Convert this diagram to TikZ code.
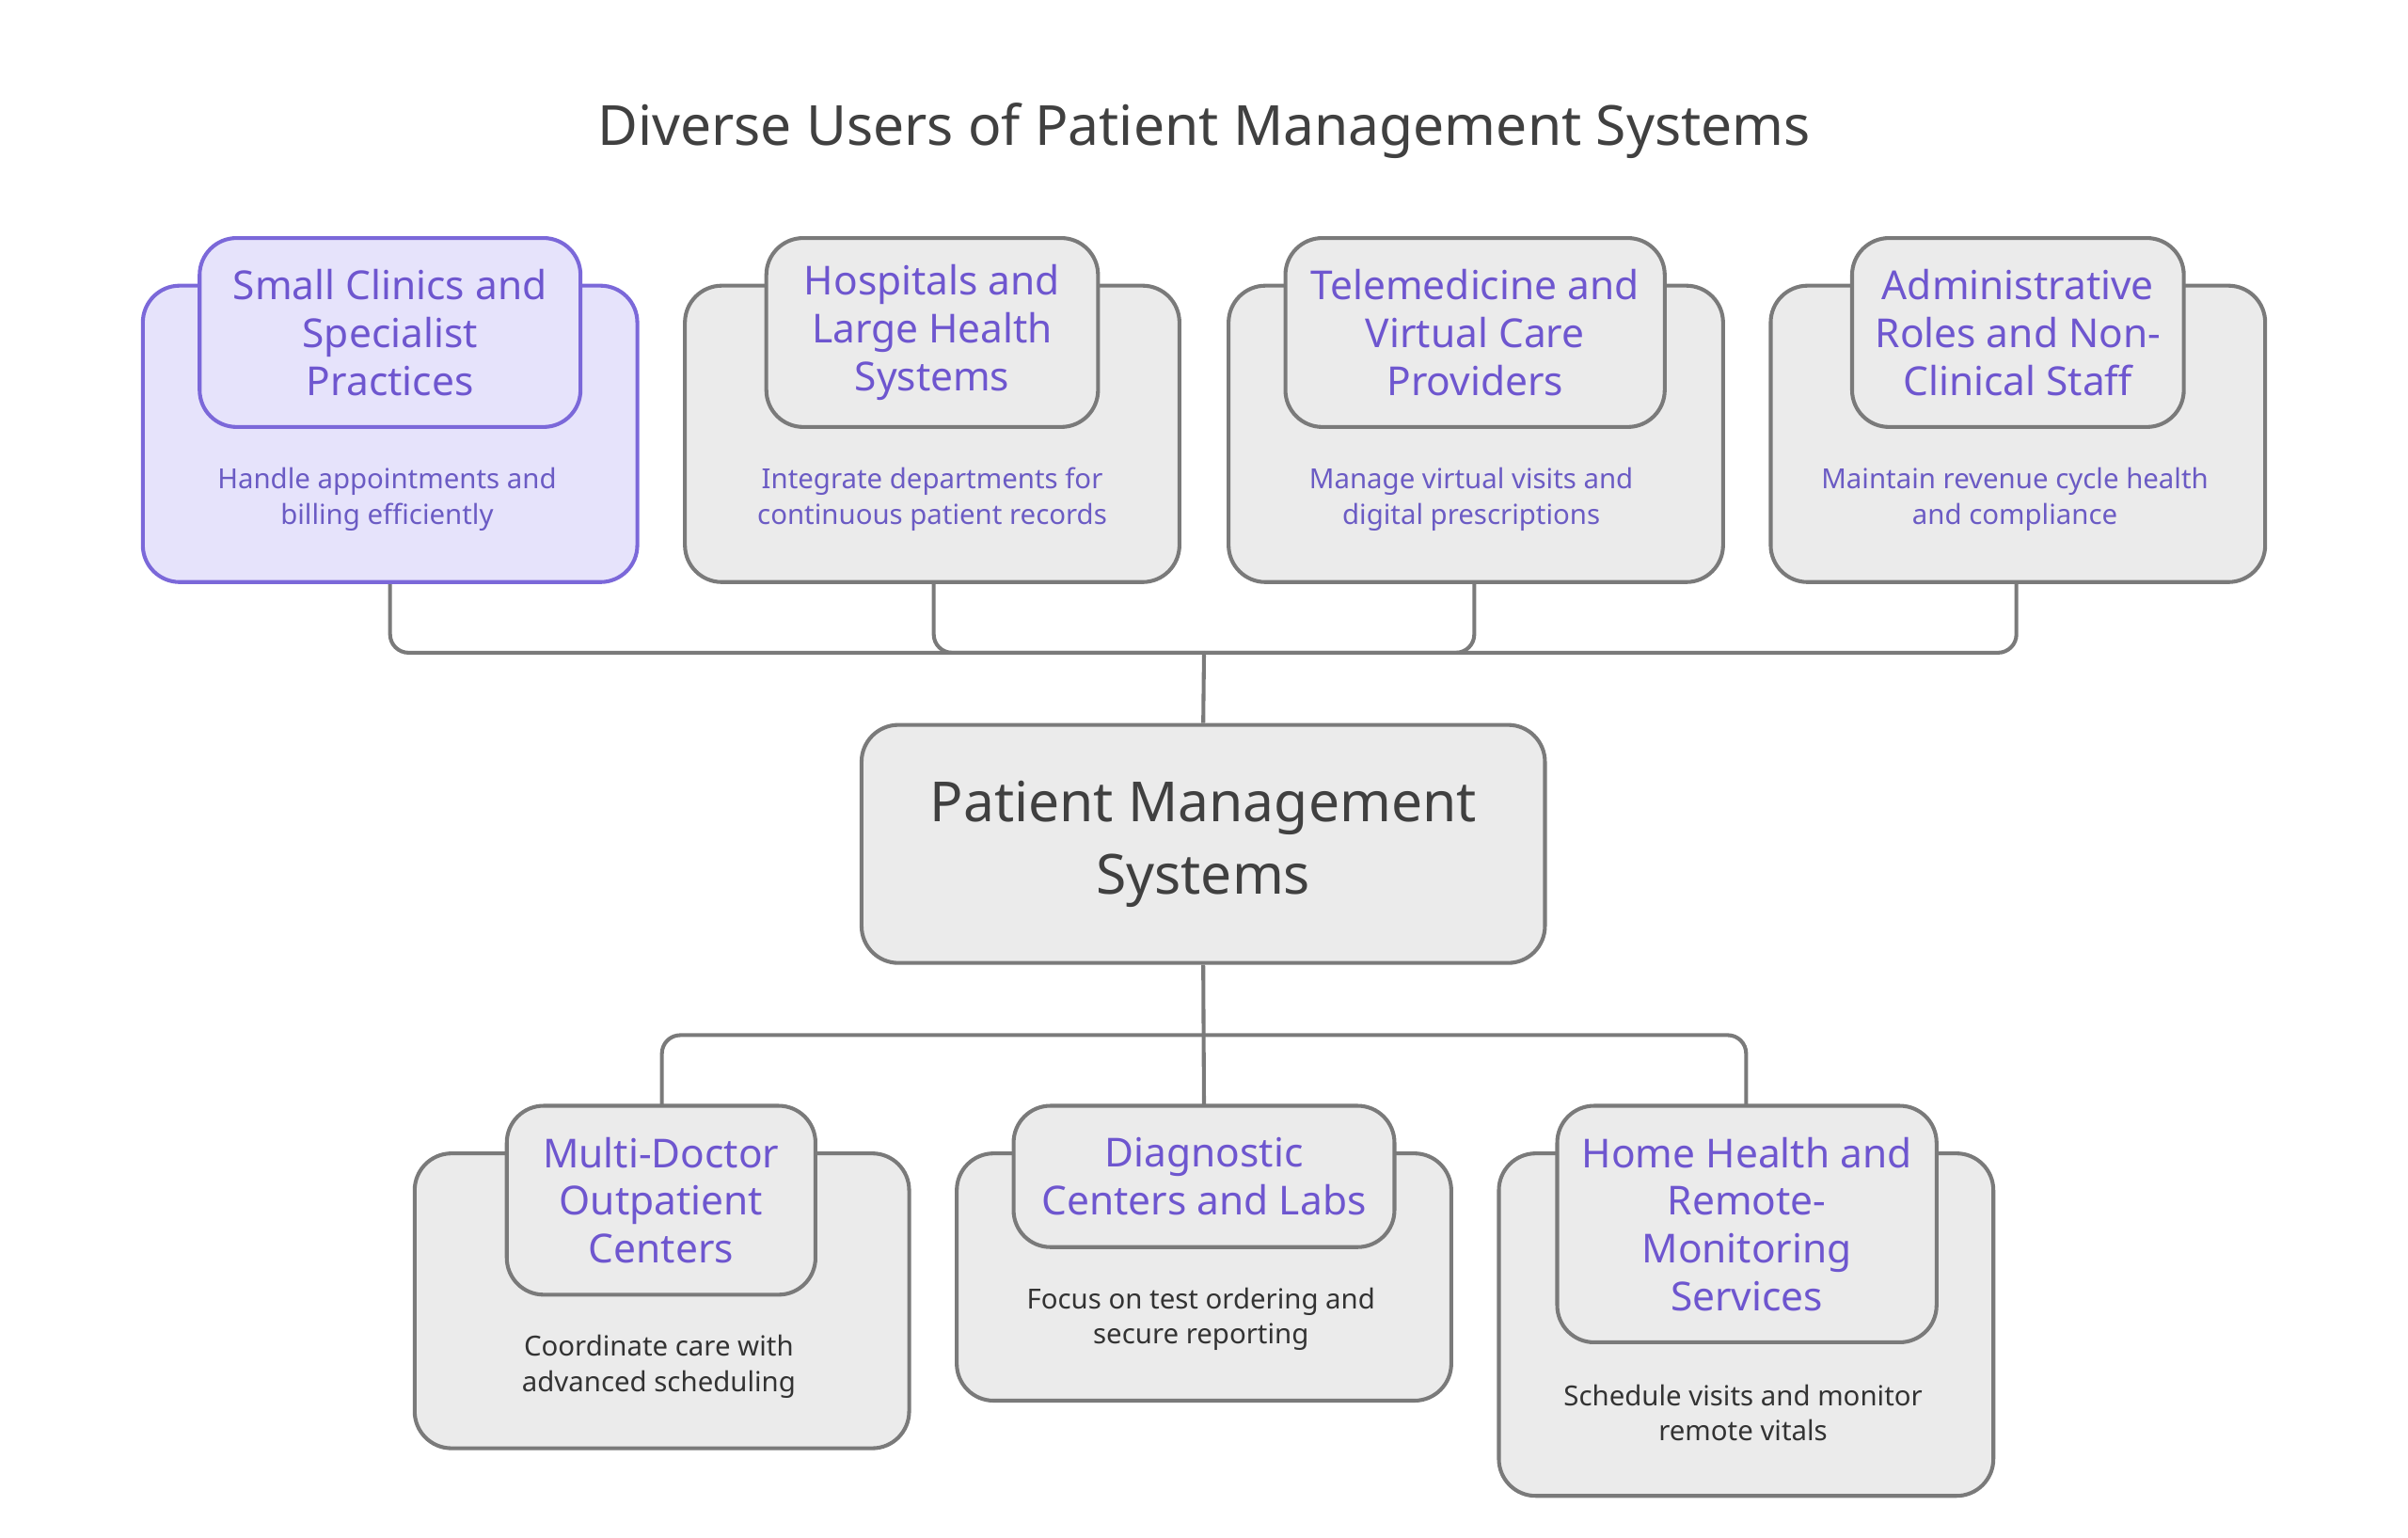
\documentclass[tikz,border=0pt]{standalone}
\usepackage{fontspec}
\setmainfont{Noto Sans}
\begin{document}
\begin{tikzpicture}[x=1pt,y=-1pt,
 box/.style={draw=bd,fill=gf,line width=2.5pt,rounded corners=24pt,inner sep=0pt},
 hbox/.style={draw=pb,fill=pf,line width=2.5pt,rounded corners=24pt,inner sep=0pt},
 head/.style={text=pt,font=\fontsize{26}{31}\selectfont\bfseries,align=center},
 desc/.style={font=\fontsize{18}{23}\selectfont,align=center},
 conn/.style={draw=bd,line width=2.5pt,rounded corners=12pt}]
\definecolor{bd}{HTML}{7A7A7A}\definecolor{gf}{HTML}{EBEBEB}
\definecolor{pb}{HTML}{7B68D9}\definecolor{pf}{HTML}{E6E3FB}
\definecolor{pt}{HTML}{6E56CF}\definecolor{dt}{HTML}{333333}\definecolor{pd}{HTML}{6B5BC4}
\useasboundingbox (0,0) rectangle (1568,1001);
\node[font=\fontsize{36}{40}\selectfont\bfseries,text=black!75] (title) at (784,85) {Diverse Users of Patient Management Systems};
% connectors
\coordinate (j) at (784,425); \coordinate (j2) at (784,674);
\node[box,minimum width=445,minimum height=155,font=\fontsize{36}{47}\selectfont\bfseries,text=black!75,align=center] (pm) at (783.5,549.5) {Patient Management\\Systems};
\foreach \x/\n in {254/1,608/2,960/3,1313/4}{\coordinate (b\n) at (\x,379);}
\draw[conn] (b1) |- (j); \draw[conn] (b2) |- (j); \draw[conn] (b3) |- (j); \draw[conn] (b4) |- (j);
\draw[conn] (j) -- (pm.north);
\coordinate (t1) at (431,720); \coordinate (t2) at (784,720); \coordinate (t3) at (1137,720);
\draw[conn] (j2) -| (t1); \draw[conn] (j2) -| (t3); \draw[conn] (pm.south) -- (t2);
% top row
\node[hbox,minimum width=322,minimum height=193] (o1) at (254,282.5) {};
\node[hbox,minimum width=248,minimum height=123,head] (i1) at (254,216.5) {Small Clinics and\\Specialist\\Practices};
\node[desc,text=pd] (d1) at (252,325) {Handle appointments and\\billing efficiently};
\node[box,minimum width=322,minimum height=193] (o2) at (607,282.5) {};
\node[box,minimum width=216,minimum height=123,head] (i2) at (607,216.5) {Hospitals and\\Large Health\\Systems};
\node[desc,text=pd] (d2) at (607,325) {Integrate departments for\\continuous patient records};
\node[box,minimum width=322,minimum height=193] (o3) at (961,282.5) {};
\node[box,minimum width=247,minimum height=123,head] (i3) at (960.5,216.5) {Telemedicine and\\Virtual Care\\Providers};
\node[desc,text=pd] (d3) at (958,325) {Manage virtual visits and\\digital prescriptions};
\node[box,minimum width=322,minimum height=193] (o4) at (1314,282.5) {};
\node[box,minimum width=216,minimum height=123,head] (i4) at (1314,216.5) {Administrative\\Roles and Non-\\Clinical Staff};
\node[desc,text=pd] (d4) at (1312,325) {Maintain revenue cycle health\\and compliance};
% bottom row
\node[box,minimum width=322,minimum height=192] (o5) at (431,847) {};
\node[box,minimum width=201,minimum height=123,head] (i5) at (430.5,781.5) {Multi-Doctor\\Outpatient\\Centers};
\node[desc,text=dt] (d5) at (429,890) {Coordinate care with\\advanced scheduling};
\node[box,minimum width=322,minimum height=161] (o6) at (784,831.5) {};
\node[box,minimum width=248,minimum height=92,head] (i6) at (784,766) {Diagnostic\\Centers and Labs};
\node[desc,text=dt] (d6) at (782,859) {Focus on test ordering and\\secure reporting};
\node[box,minimum width=322,minimum height=223] (o7) at (1137,862.5) {};
\node[box,minimum width=247,minimum height=154,head] (i7) at (1137.5,797) {Home Health and\\Remote-\\Monitoring\\Services};
\node[desc,text=dt] (d7) at (1135,920) {Schedule visits and monitor\\remote vitals};
\end{tikzpicture}
\end{document}
